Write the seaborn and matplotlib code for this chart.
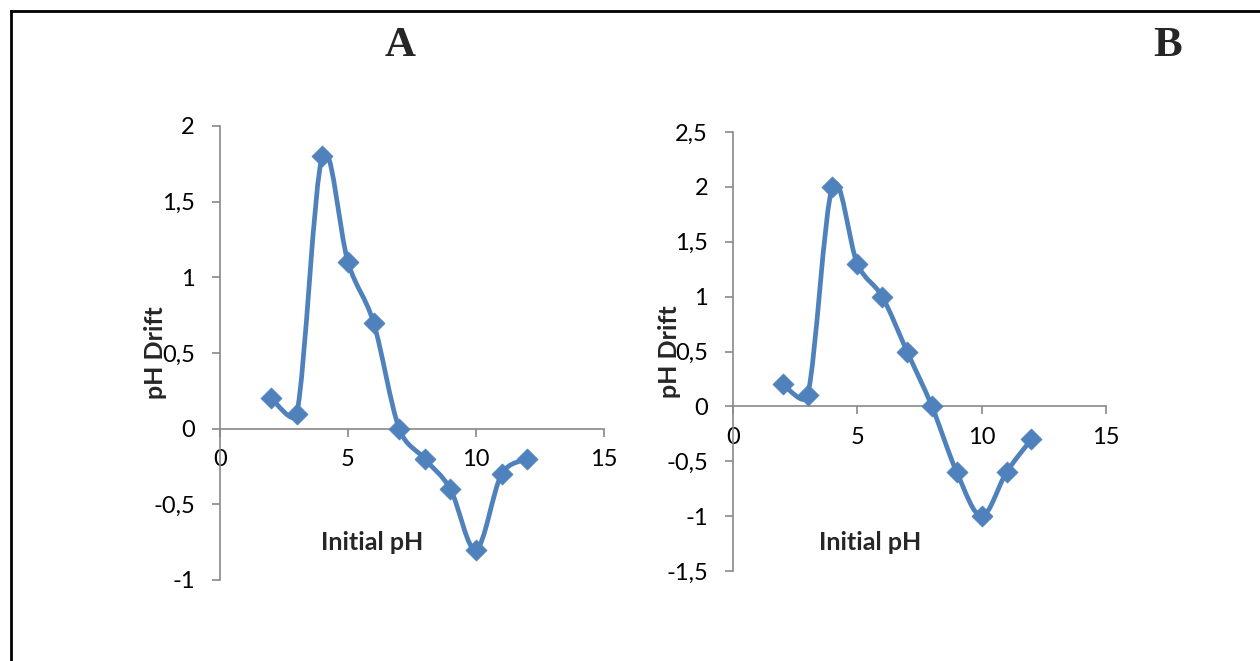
import numpy as np
import pandas as pd
import seaborn as sns
import matplotlib
matplotlib.use("Agg")
import matplotlib.pyplot as plt
from matplotlib.path import Path
from matplotlib.patches import PathPatch
from matplotlib.lines import Line2D
from matplotlib.ticker import FuncFormatter, MultipleLocator

# ---- data ----
initial_ph = [2, 3, 4, 5, 6, 7, 8, 9, 10, 11, 12]
drift_a = [0.2, 0.1, 1.8, 1.1, 0.7, 0.0, -0.2, -0.4, -0.8, -0.3, -0.2]
drift_b = [0.2, 0.1, 2.0, 1.3, 1.0, 0.5, 0.0, -0.6, -1.0, -0.6, -0.3]
panel_titles = ["A", "B"]
x_label = "Initial pH"
y_label = "pH Drift"

BLUE = "#4F81BD"
GRAY = "#898989"

sns.set_theme(style="white")
plt.rcParams["font.family"] = ["Lato", "DejaVu Sans"]

W, H = 1260, 661
fig = plt.figure(figsize=(W / 100, H / 100), dpi=100)
fig.patch.set_facecolor("white")


def px_rect(x0, x1, ytop, ybot):
    return [x0 / W, (H - ybot) / H, (x1 - x0) / W, (ybot - ytop) / H]


def smooth_path(xs, ys, sx, sy):
    """Excel-like smoothed Bezier through the data points.
    sx, sy: pixels per data unit, used only to limit control-arm lengths."""
    pts = np.column_stack([xs, ys]).astype(float)
    scale = np.array([sx, sy])
    n = len(pts)
    verts = [pts[0]]
    codes = [Path.MOVETO]
    for i in range(n - 1):
        p0 = pts[i - 1] if i > 0 else pts[i]
        p1 = pts[i]
        p2 = pts[i + 1]
        p3 = pts[i + 2] if i + 2 < n else pts[i + 1]
        half = np.linalg.norm((p2 - p1) * scale) / 2.0
        a1 = (p2 - p0) / 6.0
        a2 = (p3 - p1) / 6.0
        l1 = np.linalg.norm(a1 * scale)
        l2 = np.linalg.norm(a2 * scale)
        if l1 > half and l1 > 0:
            a1 = a1 * half / l1
        if l2 > half and l2 > 0:
            a2 = a2 * half / l2
        verts += [p1 + a1, p2 - a2, p2]
        codes += [Path.CURVE4] * 3
    return Path(verts, codes)


comma_fmt = FuncFormatter(lambda v, p: f"{v:g}".replace(".", ","))


def draw_panel(rect, ydata, ylim, xlab_pos, ylab_pos):
    ax = fig.add_axes(rect)
    df = pd.DataFrame({"x": initial_ph, "y": ydata})
    sx = rect[2] * W / 15.0
    sy = rect[3] * H / (ylim[1] - ylim[0])
    patch = PathPatch(smooth_path(df["x"], df["y"], sx, sy), facecolor="none",
                      edgecolor=BLUE, lw=3.4, capstyle="round",
                      joinstyle="round", zorder=2)
    ax.add_patch(patch)
    sns.scatterplot(data=df, x="x", y="y", marker="D", s=115, color=BLUE,
                    edgecolor=BLUE, linewidth=0.5, ax=ax, zorder=3,
                    clip_on=False)
    ax.set_xlim(0, 15)
    ax.set_ylim(*ylim)
    ax.xaxis.set_major_locator(MultipleLocator(5))
    ax.yaxis.set_major_locator(MultipleLocator(0.5))
    ax.xaxis.set_major_formatter(comma_fmt)
    ax.yaxis.set_major_formatter(comma_fmt)
    for s in ["top", "right"]:
        ax.spines[s].set_visible(False)
    ax.spines["bottom"].set_position(("data", 0))
    for s in ["bottom", "left"]:
        ax.spines[s].set_color(GRAY)
        ax.spines[s].set_linewidth(1.2)
    ax.tick_params(axis="x", direction="out", length=6, width=1.2,
                   color=GRAY, pad=9, labelsize=17, labelcolor="black",
                   bottom=True)
    ax.tick_params(axis="y", direction="out", length=6, width=1.2,
                   color=GRAY, pad=12, labelsize=17, labelcolor="black",
                   left=True)
    ax.set_xlabel(x_label, fontsize=18, fontweight="bold", va="center",
                  ha="center")
    ax.set_ylabel(y_label, fontsize=18, fontweight="bold", va="center",
                  ha="center")
    ax.xaxis.set_label_coords(*xlab_pos)
    ax.yaxis.set_label_coords(*ylab_pos)
    ax.set_facecolor("none")
    ax.grid(False)
    return ax


draw_panel(px_rect(220, 604, 126, 580), drift_a, (-1, 2),
           (0.396, 0.0815), (-0.169, 0.5))
draw_panel(px_rect(733, 1106, 132, 571), drift_b, (-1.5, 2.5),
           (0.367, 0.066), (-0.169, 0.499))

# panel letters
fig.text(400 / W, 1 - 46 / H, panel_titles[0], fontsize=31,
         fontweight="bold", family=["Liberation Serif", "DejaVu Serif"],
         ha="center", va="center")
fig.text(1168 / W, 1 - 46 / H, panel_titles[1], fontsize=31,
         fontweight="bold", family=["Liberation Serif", "DejaVu Serif"],
         ha="center", va="center")

# frame around the figure (extends beyond right and bottom edges)
x0 = 10.5 / W
ytop = 1 - 11 / H
fig.add_artist(Line2D([x0, x0], [-0.05, ytop], color="black", lw=2.0,
                      transform=fig.transFigure, solid_capstyle="projecting"))
fig.add_artist(Line2D([x0, 1.05], [ytop, ytop], color="black", lw=2.0,
                      transform=fig.transFigure, solid_capstyle="projecting"))

fig.savefig("out.png", dpi=100, facecolor="white")
